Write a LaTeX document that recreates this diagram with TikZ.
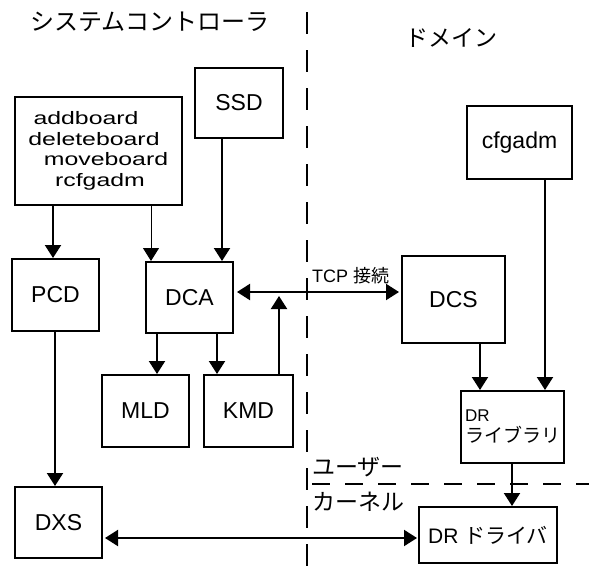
\documentclass[tikz,border=0pt]{standalone}
\usepackage{fontspec}
\setmainfont{Liberation Sans}
\newfontfamily\widesans[FakeStretch=1.38]{Liberation Sans}
\newfontfamily\jp{Noto Sans CJK JP}
\usetikzlibrary{arrows.meta}
\begin{document}
\begin{tikzpicture}[
    x=1pt, y=-1pt,
    box/.style={rectangle, draw, line width=2pt, inner sep=0pt, font=\fontsize{23}{27}\selectfont},
    arrow/.style={-{Triangle[width=16pt,length=13pt]}, line width=2pt},
    twoway/.style={{Triangle[width=16pt,length=13pt]}-{Triangle[width=16pt,length=13pt]}, line width=2pt},
    region/.style={font=\jp\fontsize{23}{28}\selectfont},
    border/.style={line width=2pt, dash pattern=on 22pt off 16pt}
]
\useasboundingbox (0,0) rectangle (589,573);

% Titles and borders
\node[region, font=\jp\fontsize{24}{28}\selectfont] (sctitle) at (150,22) {システムコントローラ};
\node[region] (domtitle) at (451,38) {ドメイン};
\draw[border] (307,12) -- (307,573);
\draw[line width=2pt, dash pattern=on 18pt off 15pt] (312,484) -- (589,484);
\node[region, anchor=west, inner sep=0pt] (user) at (312,467) {ユーザー};
\node[region, anchor=west, inner sep=0pt] (kernel) at (312,502) {カーネル};

% System controller
\node[box, minimum width=167pt, minimum height=108pt] (cmds) at (98.5,151) {};
\node[align=center, font=\widesans\fontsize{18}{20.5}\selectfont] (cmdlist) at (94,151)
    {addboard\hspace*{16pt}\\deleteboard\\\hspace*{24pt}moveboard\\\hspace*{12pt}rcfgadm};
\node[box, minimum width=88pt, minimum height=70pt] (ssd) at (239,103) {SSD};
\node[box, minimum width=87pt, minimum height=72pt] (pcd) at (55.5,295) {PCD};
\node[box, minimum width=87pt, minimum height=71pt] (dca) at (189.5,297.5) {DCA};
\node[box, minimum width=87pt, minimum height=72pt] (mld) at (145.5,411) {MLD};
\node[box, minimum width=89pt, minimum height=72pt] (kmd) at (248.5,411) {KMD};
\node[box, minimum width=87pt, minimum height=71pt] (dxs) at (58.5,522.5) {DXS};

% Domain
\node[box, minimum width=103pt, minimum height=87pt] (dcs) at (453.5,299.5) {DCS};
\node[box, minimum width=105pt, minimum height=73pt] (cfgadm) at (519.5,142.5) {cfgadm};
\node[box, minimum width=103pt, minimum height=72pt, align=left, text width=95pt,
      inner xsep=4pt, font=\fontsize{17}{21}\selectfont] (drlib) at (512.5,427)
    {DR\\{\jp\fontsize{19}{21}\selectfont ライブラリ}};
\node[box, minimum width=138pt, minimum height=56pt, font=\fontsize{21}{24}\selectfont] (drdrv) at (488,535)
    {DR {\jp ドライバ}};

% Connections
\draw[arrow] (cmds.south -| 53,0) -- (pcd.north -| 53,0);
\draw[arrow, line width=1pt] (cmds.south -| 151,0) -- (dca.north -| 151,0);
\draw[arrow] (ssd.south -| 222,0) -- (dca.north -| 222,0);
\draw[arrow] (pcd.south -| 55,0) -- (dxs.north -| 55,0);
\draw[arrow] (dca.south -| 157,0) -- (mld.north -| 157,0);
\draw[arrow] (dca.south -| 217,0) -- (kmd.north -| 217,0);
\coordinate (kmdtip) at (279,296);
\draw[arrow] (kmd.north -| kmdtip) -- (kmdtip);
\draw[twoway, shorten <=3pt, shorten >=2pt] (dca.east |- 0,292) -- (dcs.west |- 0,292);
\node[anchor=south west, inner sep=0pt, font=\fontsize{18}{20}\selectfont] (tcplabel) at (312,284) {TCP {\jp 接続}};
\draw[arrow] (dcs.south -| 480,0) -- (drlib.north -| 480,0);
\draw[arrow] (cfgadm.south -| 545,0) -- (drlib.north -| 545,0);
\draw[arrow] (drlib.south -| 512,0) -- (drdrv.north -| 512,0);
\draw[twoway, shorten <=2pt, shorten >=1pt] (dxs.east |- 0,538) -- (drdrv.west |- 0,538);
\end{tikzpicture}
\end{document}
